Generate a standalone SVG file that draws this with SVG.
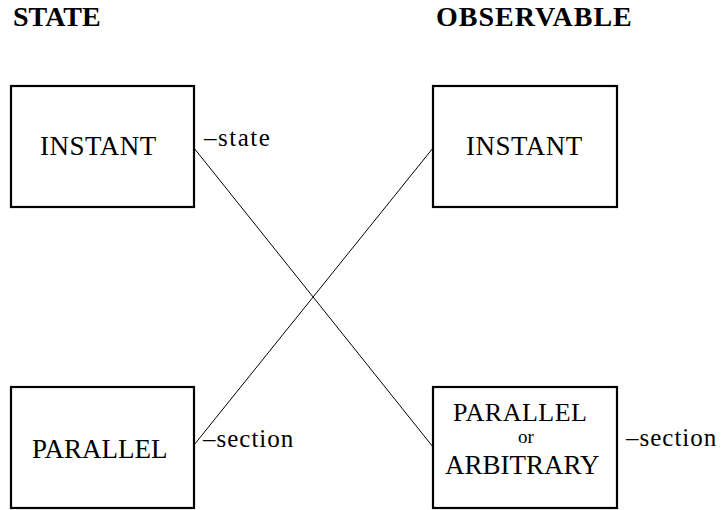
<svg xmlns="http://www.w3.org/2000/svg" width="723" height="510" viewBox="0 0 723 510">
<rect width="723" height="510" fill="#fff"/>
<g fill="#000" font-weight="bold" font-size="28">
<text x="13" y="26" font-family="Liberation Serif">STATE</text>
<text x="436" y="26" letter-spacing="1" font-family="Liberation Serif">OBSERVABLE</text>
</g>
<g id="connectors" stroke="#000" stroke-width="1" fill="none">
<line x1="194" y1="148" x2="433" y2="447"/>
<line x1="194" y1="445" x2="433" y2="148"/>
</g>
<g id="state-instant" fill="#000">
<rect x="11" y="86" width="183" height="121" fill="#fff" stroke="#000" stroke-width="2.2"/>
<text font-family="serif" font-size="27" x="40" y="155" letter-spacing="0.5">INSTANT</text>
<text font-family="Times New Roman" font-size="25" x="204" y="146" letter-spacing="1.5">&#8211;state</text>
</g>
<g id="state-parallel" fill="#000">
<rect x="11" y="387" width="183" height="121" fill="#fff" stroke="#000" stroke-width="2.2"/>
<text font-family="serif" font-size="27" x="32" y="458">PARALLEL</text>
<text font-family="Times New Roman" font-size="25" x="203" y="447" letter-spacing="1">&#8211;section</text>
</g>
<g id="obs-instant" fill="#000">
<rect x="433" y="86" width="184" height="121" fill="#fff" stroke="#000" stroke-width="2.2"/>
<text font-family="serif" font-size="27" x="466" y="155" letter-spacing="0.5">INSTANT</text>
</g>
<g id="obs-parallel" fill="#000">
<rect x="433" y="387" width="184" height="121" fill="#fff" stroke="#000" stroke-width="2.2"/>
<text font-family="serif" font-size="26" x="453" y="421" letter-spacing="0.5">PARALLEL</text>
<text font-family="serif" font-size="19" x="526" y="443" text-anchor="middle">or</text>
<text font-family="serif" font-size="27" x="445" y="474">ARBITRARY</text>
<text font-family="Times New Roman" font-size="25" x="626" y="446" letter-spacing="1">&#8211;section</text>
</g>
</svg>
